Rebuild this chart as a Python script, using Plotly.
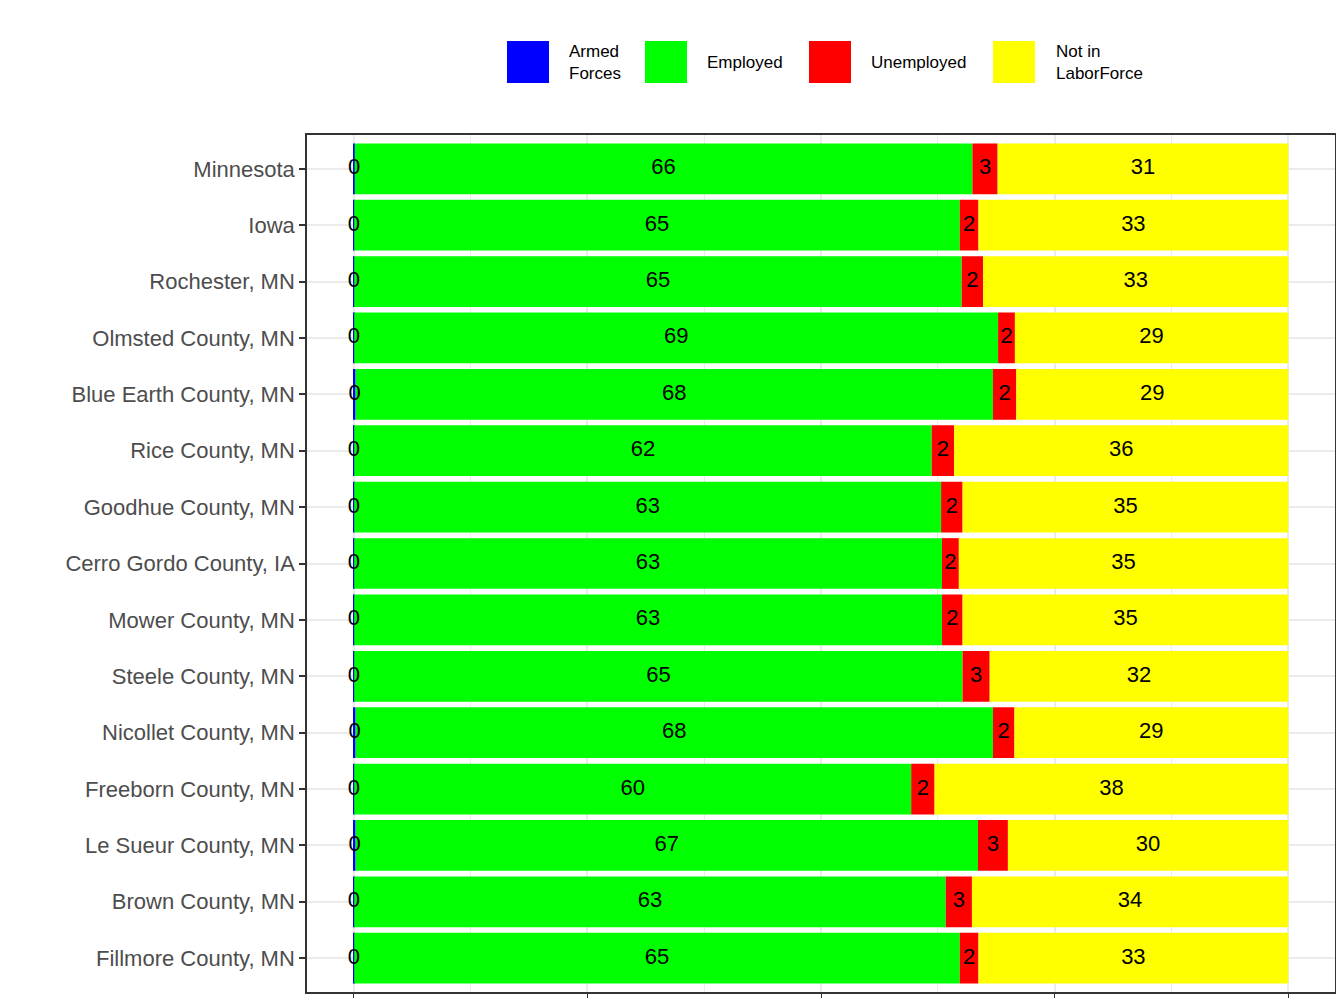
import plotly.graph_objects as go

regions = ["Minnesota","Iowa","Rochester, MN","Olmsted County, MN","Blue Earth County, MN","Rice County, MN",
           "Goodhue County, MN","Cerro Gordo County, IA","Mower County, MN","Steele County, MN","Nicollet County, MN",
           "Freeborn County, MN","Le Sueur County, MN","Brown County, MN","Fillmore County, MN"]
armed = [0.1,0.05,0.05,0.05,0.2,0.05,0.05,0.05,0.05,0.05,0.2,0.05,0.2,0.05,0.05]
employed = [66.1,64.8,65.0,68.9,68.2,61.8,62.8,62.9,62.9,65.1,68.2,59.6,66.6,63.3,64.8]
unemployed = [2.7,2.0,2.3,1.8,2.5,2.4,2.3,1.8,2.2,2.9,2.3,2.5,3.2,2.8,2.0]
nilf = [31.1,33.15,32.65,29.25,29.1,35.75,34.85,35.25,34.85,31.95,29.3,37.85,30.0,33.85,33.15]
series = [("Armed<br>Forces", armed, "#0000FF"), ("Employed", employed, "#00FF00"),
          ("Unemployed", unemployed, "#FF0000"), ("Not in<br>LaborForce", nilf, "#FFFF00")]

W, H = 1344, 1008
L, R, T, B = 299, 17, 127, 24
pw, ph = W - L - R, H - T - B
fig = go.Figure()
base = [0.0]*len(regions)
for name, vals, col in series:
    fig.add_trace(go.Bar(y=regions, x=vals, base=base, orientation="h", marker_color=col,
                         marker_line_width=0, width=0.9, showlegend=False, hoverinfo="skip"))
    centers = [b + v/2 for b, v in zip(base, vals)]
    fig.add_trace(go.Scatter(y=regions, x=centers, mode="text", text=[str(round(v)) for v in vals],
                             textfont=dict(size=22, color="black", family="Liberation Sans"),
                             showlegend=False, hoverinfo="skip"))
    base = [b + v for b, v in zip(base, vals)]

# legend drawn manually
keys = [(499, 559), (637, 697), (801, 861), (985, 1046)]
for (kx, tx), (name, _, col) in zip(keys, series):
    fig.add_shape(type="rect", xref="paper", yref="paper",
                  x0=(kx-L)/pw, x1=(kx+42-L)/pw, y0=(H-B-75)/ph, y1=(H-B-33)/ph,
                  fillcolor=col, line_width=0)
    fig.add_annotation(xref="paper", yref="paper", x=(tx-L)/pw, y=(H-B-54)/ph,
                       text=name, showarrow=False, xanchor="left", yanchor="middle", align="left",
                       font=dict(size=17, color="black", family="Liberation Sans"))

fig.update_layout(width=W, height=H, margin=dict(l=L, r=R, t=T, b=B), barmode="overlay",
                  plot_bgcolor="white", paper_bgcolor="white",
                  font=dict(family="Liberation Sans"))
fig.update_xaxes(range=[-5, 105], showticklabels=False, ticks="outside", ticklen=4, tickcolor="#333",
                 tickvals=[0,25,50,75,100], showgrid=True, gridcolor="#EBEBEB", gridwidth=1.5,
                 minor=dict(tickvals=[12.5,37.5,62.5,87.5], showgrid=True, gridcolor="#EBEBEB", gridwidth=1),
                 zeroline=False, showline=True, linecolor="#333", mirror=True, linewidth=1.5)
fig.update_yaxes(categoryorder="array", categoryarray=regions, autorange=False, range=[14.6, -0.6],
                 ticks="outside", ticklen=6, tickcolor="#333", tickwidth=1.5,
                 tickfont=dict(size=22, color="#4D4D4D"), showgrid=True, gridcolor="#EBEBEB", gridwidth=1.5,
                 showline=True, linecolor="#333", mirror=True, linewidth=1.5)
fig.write_html("out.html")
